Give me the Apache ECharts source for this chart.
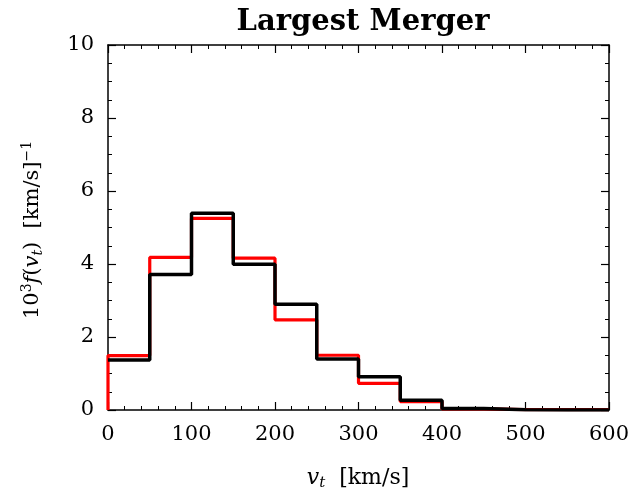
<!DOCTYPE html>
<html>
<head>
<meta charset="utf-8">
<script src="https://cdn.jsdelivr.net/npm/echarts@6/dist/echarts.min.js"></script>
<style>html,body{margin:0;padding:0;background:#fff}#c{width:633px;height:495px}</style>
</head>
<body>
<div id="c"></div>
<script>
// Bin edges (km/s) and histogram heights (10^3 f(v_t))
const binEdges = [0, 50, 100, 150, 200, 250, 300, 350, 400, 450, 500, 550, 600];
const redValues = [1.49, 4.18, 5.25, 4.16, 2.47, 1.50, 0.73, 0.23, 0.03, 0.01, 0.01, 0.01];
const blackValues = [1.37, 3.71, 5.39, 3.99, 2.90, 1.40, 0.91, 0.27, 0.04, 0.01, 0.0, 0.0];
const xTicks = [0, 100, 200, 300, 400, 500, 600];
const yTicks = [0, 2, 4, 6, 8, 10];

// Turn bin heights into step vertices: horizontal at each bin value, jump at next edge
function stepPoints(values, fromZero) {
  const pts = [];
  if (fromZero) pts.push([binEdges[0], 0]);
  values.forEach((v, i) => pts.push([binEdges[i], v]));
  pts.push([binEdges[binEdges.length - 1], values[values.length - 1]]);
  return pts;
}

const serif = '"DejaVu Serif", "Liberation Serif", serif';
const chart = echarts.init(document.getElementById('c'));

const baseAxis = {
  type: 'value',
  axisLine: { show: true, onZero: false, lineStyle: { color: '#000', width: 1.5 } },
  axisTick: { show: true, inside: true, length: 8, lineStyle: { color: '#000', width: 1.2 } },
  minorTick: { show: true, length: 4, lineStyle: { color: '#000', width: 1 } },
  splitLine: { show: false }
};

chart.setOption({
  animation: false,
  title: {
    text: 'Largest Merger',
    left: 358, top: 3, textAlign: 'center',
    textStyle: { fontFamily: serif, fontSize: 29, fontWeight: 'bold', color: '#000' }
  },
  grid: { left: 108, right: 24, top: 45, bottom: 85 },
  xAxis: [
    Object.assign({}, baseAxis, {
      min: 0, max: 600, interval: 100, position: 'bottom',
      minorTick: Object.assign({}, baseAxis.minorTick, { splitNumber: 5 }),
      axisLabel: { fontFamily: serif, fontSize: 21, color: '#000', margin: 14,
        formatter: v => xTicks.includes(v) ? String(v) : '' }
    }),
    Object.assign({}, baseAxis, {
      min: 0, max: 600, interval: 100, position: 'top',
      minorTick: Object.assign({}, baseAxis.minorTick, { splitNumber: 5 }),
      axisLabel: { show: false }
    })
  ],
  yAxis: [
    Object.assign({}, baseAxis, {
      min: 0, max: 10, interval: 2, position: 'left',
      minorTick: Object.assign({}, baseAxis.minorTick, { splitNumber: 4 }),
      axisLabel: { fontFamily: serif, fontSize: 21, color: '#000', margin: 14,
        formatter: v => yTicks.includes(v) ? String(v) : '' }
    }),
    Object.assign({}, baseAxis, {
      min: 0, max: 10, interval: 2, position: 'right',
      minorTick: Object.assign({}, baseAxis.minorTick, { splitNumber: 4 }),
      axisLabel: { show: false }
    })
  ],
  graphic: [
    {
      type: 'text', x: 358, y: 478,
      style: {
        align: 'center', verticalAlign: 'middle',
        text: '{i|v}{s|t}{n|  [km/s]}',
        rich: {
          i: { fontFamily: serif, fontStyle: 'italic', fontSize: 22, fill: '#000' },
          s: { fontFamily: serif, fontStyle: 'italic', fontSize: 15, fill: '#000', padding: [10, 0, 0, 0] },
          n: { fontFamily: serif, fontSize: 22, fill: '#000' }
        }
      }
    },
    {
      type: 'text', x: 33, y: 230, rotation: Math.PI / 2,
      style: {
        align: 'center', verticalAlign: 'middle',
        text: '{n|10}{p|3}{i|f}{n|(}{i|v}{s|t}{n|)  [km/s]}{p|−1}',
        rich: {
          n: { fontFamily: serif, fontSize: 21, fill: '#000' },
          i: { fontFamily: serif, fontStyle: 'italic', fontSize: 21, fill: '#000' },
          p: { fontFamily: serif, fontSize: 14, fill: '#000', padding: [0, 0, 12, 0] },
          s: { fontFamily: serif, fontStyle: 'italic', fontSize: 14, fill: '#000', padding: [10, 0, 0, 0] }
        }
      }
    }
  ],
  series: [
    {
      type: 'line', step: 'end', symbol: 'none', xAxisIndex: 0, yAxisIndex: 0,
      data: stepPoints(redValues, true),
      lineStyle: { color: '#ff0000', width: 3.2 }
    },
    {
      type: 'line', step: 'end', symbol: 'none', xAxisIndex: 0, yAxisIndex: 0,
      data: stepPoints(blackValues, false),
      lineStyle: { color: '#000000', width: 3.5 }
    }
  ]
});
</script>
</body>
</html>
